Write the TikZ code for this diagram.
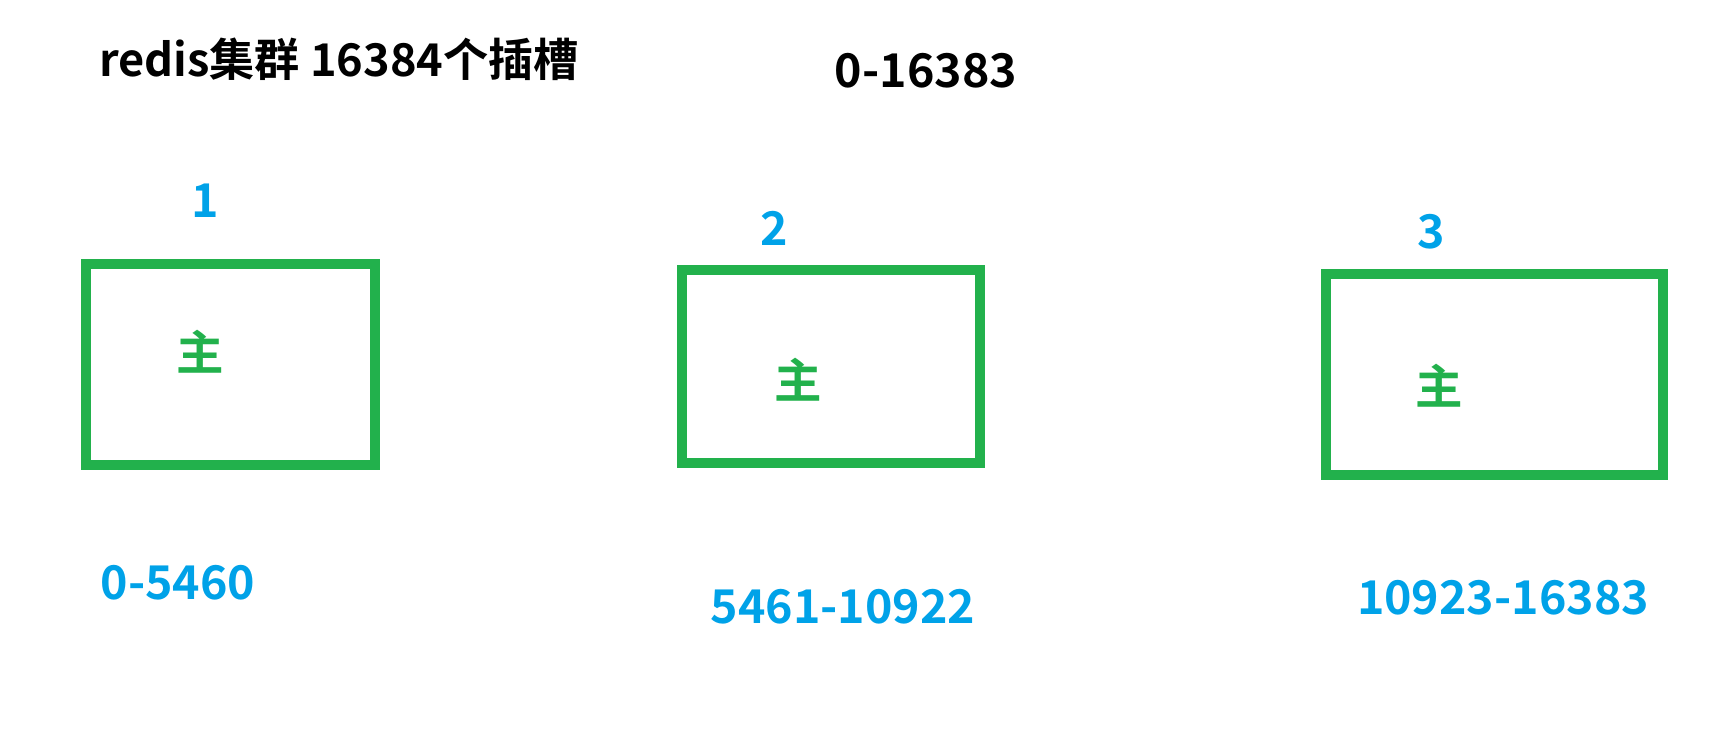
\documentclass[tikz,border=0pt]{standalone}
\usepackage{fontspec}
\setmainfont{Noto Sans CJK SC}[BoldFont={Noto Sans CJK SC Bold}]
\definecolor{paintgreen}{RGB}{34,177,76}
\definecolor{paintblue}{RGB}{0,162,232}
\tikzset{
	slotbox/.style={draw=paintgreen, line width=6pt, inner sep=0pt},
	masterlbl/.style={text=paintgreen, font=\bfseries\fontsize{27}{30}\selectfont, inner sep=0pt},
	nodelbl/.style={text=paintblue, font=\bfseries\fontsize{26.5}{30}\selectfont, inner sep=0pt, anchor=base},
	headlbl/.style={text=black, font=\bfseries\fontsize{26.5}{30}\selectfont, inner sep=0pt, anchor=base}
}
\begin{document}
\begin{tikzpicture}[x=0.02cm, y=-0.02cm]
	\def\px{0.02cm}
	\useasboundingbox (0,0) rectangle (1720,732);
	
	% title and whole slot range
	\node[headlbl, font=\bfseries\fontsize{25.7}{30}\selectfont] (title) at (339,77) {redis集群 16384个插槽};
	\node[headlbl] (range) at (926,88) {0-16383};
	
	% three masters: number, box, slot range
	\foreach \n/\bx/\by/\bw/\bh/\mx/\my/\nx/\ny/\rx/\ry/\r in {
		1/230.5/364.5/289/201/200/352/205/218/178/600/0-5460,
		2/831/366.5/298/193/798/380/774/246/843/623/5461-10922,
		3/1494.5/374.5/337/201/1439/386/1431/249/1503/615/10923-16383} {
		\node[slotbox, minimum width=\bw*\px, minimum height=\bh*\px] (box\n) at (\bx,\by) {};
		\node[masterlbl] (master\n) at (\mx,\my) {主};
		\node[nodelbl] (num\n) at (\nx,\ny) {\n};
		\node[nodelbl] (slots\n) at (\rx,\ry) {\r};
	}
\end{tikzpicture}
\end{document}
